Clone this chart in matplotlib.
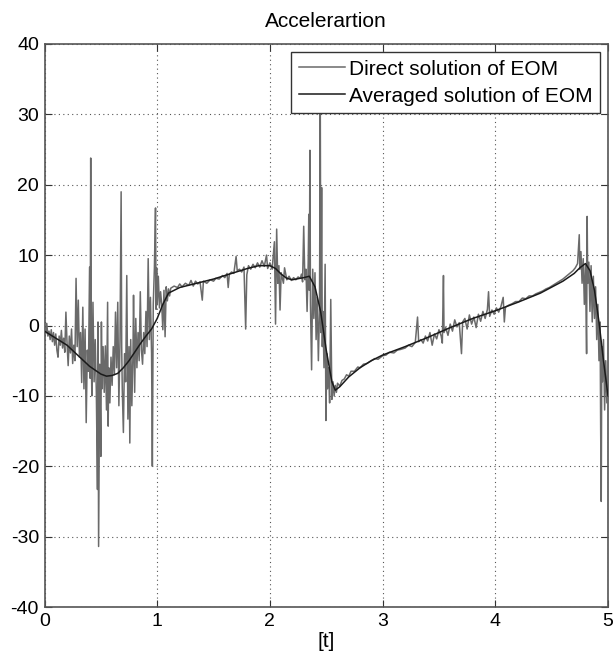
import matplotlib
matplotlib.use("Agg")
import matplotlib.pyplot as plt

# ---- data ----
direct_t = [
    0.00, 0.01, 0.02, 0.03, 0.04, 0.05, 0.06, 0.07, 0.08, 0.09,
    0.10, 0.11, 0.12, 0.13, 0.14, 0.15, 0.16, 0.17, 0.18, 0.19,
    0.20, 0.21, 0.22, 0.23, 0.24, 0.25, 0.26, 0.27, 0.28, 0.29,
    0.30, 0.31, 0.32, 0.33, 0.34, 0.35, 0.36, 0.37, 0.38, 0.39,
    0.40, 0.405, 0.41, 0.415, 0.42, 0.43, 0.44, 0.45, 0.46, 0.47,
    0.475, 0.48, 0.49, 0.50, 0.505, 0.51, 0.52, 0.53, 0.54, 0.55,
    0.56, 0.565, 0.57, 0.58, 0.59, 0.60, 0.61, 0.62, 0.63, 0.64,
    0.65, 0.66, 0.67, 0.675, 0.68, 0.685, 0.69, 0.70, 0.71, 0.72,
    0.73, 0.74, 0.75, 0.757, 0.765, 0.775, 0.785, 0.79, 0.80, 0.81,
    0.82, 0.83, 0.84, 0.85, 0.86, 0.87, 0.88, 0.89, 0.90, 0.91,
    0.92, 0.93, 0.94, 0.95, 0.957, 0.965, 0.975, 0.985, 0.99, 0.995,
    1.00, 1.01, 1.02, 1.03, 1.04, 1.05, 1.06, 1.07, 1.08, 1.09,
    1.10, 1.11, 1.12, 1.15, 1.18, 1.20, 1.22, 1.25, 1.28, 1.30,
    1.32, 1.34, 1.36, 1.38, 1.40, 1.41, 1.44, 1.47, 1.50, 1.52,
    1.55, 1.58, 1.60, 1.62, 1.63, 1.64, 1.66, 1.68, 1.70, 1.71,
    1.73, 1.75, 1.77, 1.785, 1.795, 1.81, 1.83, 1.85, 1.87, 1.89,
    1.91, 1.93, 1.95, 1.97, 1.98, 2.00, 2.02, 2.04, 2.05, 2.06,
    2.07, 2.08, 2.09, 2.10, 2.12, 2.13, 2.15, 2.17, 2.19, 2.21,
    2.23, 2.25, 2.27, 2.28, 2.29, 2.30, 2.31, 2.32, 2.33, 2.34,
    2.345, 2.35, 2.355, 2.36, 2.37, 2.38, 2.39, 2.40, 2.41, 2.42,
    2.43, 2.44, 2.447, 2.452, 2.459, 2.465, 2.47, 2.48, 2.49, 2.497,
    2.505, 2.51, 2.52, 2.53, 2.54, 2.55, 2.56, 2.57, 2.58, 2.59,
    2.60, 2.62, 2.64, 2.66, 2.68, 2.70, 2.72, 2.75, 2.78, 2.80,
    2.83, 2.86, 2.90, 2.93, 2.96, 3.00, 3.03, 3.06, 3.10, 3.13,
    3.16, 3.20, 3.23, 3.26, 3.29, 3.31, 3.32, 3.34, 3.36, 3.38,
    3.40, 3.42, 3.44, 3.46, 3.48, 3.50, 3.52, 3.53, 3.54, 3.545,
    3.56, 3.58, 3.60, 3.62, 3.64, 3.66, 3.68, 3.70, 3.71, 3.73,
    3.75, 3.77, 3.79, 3.81, 3.83, 3.85, 3.87, 3.89, 3.91, 3.93,
    3.94, 3.95, 3.97, 3.99, 4.01, 4.03, 4.05, 4.07, 4.08, 4.09,
    4.12, 4.15, 4.18, 4.21, 4.24, 4.27, 4.30, 4.33, 4.36, 4.39,
    4.42, 4.45, 4.48, 4.51, 4.54, 4.57, 4.60, 4.63, 4.66, 4.69,
    4.71, 4.73, 4.745, 4.75, 4.76, 4.77, 4.78, 4.79, 4.80, 4.81,
    4.815, 4.82, 4.83, 4.84, 4.85, 4.86, 4.87, 4.88, 4.89, 4.90,
    4.91, 4.92, 4.93, 4.935, 4.94, 4.945, 4.95, 4.96, 4.97, 4.98,
    4.99, 5.00,
]
direct_v = [
    -0.5, -1.2, 0.3, -1.5, -0.8, -2.0, -0.6, -2.3, -1.0, -2.8,
    -1.2, -3.5, -4.5, -1.5, -2.8, -0.7, -3.2, -1.8, -3.8, 1.9,
    -2.5, -5.7, -1.5, -3.9, -0.5, -5.4, -2.8, -5.0, 6.7, -3.0,
    3.6, -4.5, -1.0, -8.1, 2.6, -9.0, -0.5, -13.8, -3.5, -6.5,
    8.3, -7.5, 23.8, -4.0, -10.0, 3.3, -8.0, -2.0, -9.5, -23.3,
    0.5, -31.4, -5.5, -18.6, 0.5, -9.0, -3.0, -9.5, -2.9, -12.0,
    3.3, -14.3, -6.0, -11.0, -4.5, -8.5, -3.0, -7.0, 1.9, -6.0,
    3.3, -11.4, -2.0, 8.6, 19.0, -3.0, -9.0, -15.2, -4.0, -8.0,
    7.1, -13.3, -3.0, -16.7, -2.0, -11.4, -4.0, 4.3, -9.5, 1.0,
    -6.0, -1.0, -5.0, 4.8, -3.5, -5.5, -1.0, -4.0, 2.0, -3.0,
    9.5, -2.0, 4.0, -4.0, -20.0, 3.0, 8.1, 16.7, 2.3, 8.2,
    3.0, 7.0, 2.5, 4.8, 3.0, -0.6, 5.0, -1.6, 5.5, 3.5,
    5.2, 4.2, 5.3, 5.6, 5.4, 5.9, 5.5, 6.0, 5.7, 6.4,
    5.6, 6.3, 5.9, 6.2, 3.6, 6.3, 6.0, 6.5, 6.3, 6.7,
    6.6, 7.1, 6.8, 7.4, 5.4, 7.3, 7.6, 7.4, 9.8, 7.8,
    8.0, 7.6, 8.3, -0.5, 7.2, 8.5, 8.0, 8.7, 8.2, 8.9,
    8.3, 9.2, 8.4, 10.0, 8.1, 8.9, 8.0, 11.9, 0.2, 13.7,
    6.0, 8.5, 2.2, 7.5, 6.0, 8.2, 6.5, 7.0, 6.4, 6.8,
    6.5, 6.9, 6.7, 7.3, 6.2, 14.1, 6.5, 8.0, 2.0, 9.0,
    15.8, 5.0, 24.9, 3.0, -6.3, 8.0, 1.0, 7.5, -2.0, 4.0,
    -5.0, 2.0, 32.0, -1.0, 19.6, -3.0, 2.0, -6.0, 8.7, -13.5,
    -4.0, -9.0, -6.0, -11.0, 3.7, -10.5, -8.0, -10.0, -8.5, -9.5,
    -8.2, -8.6, -7.8, -7.6, -7.0, -7.2, -6.5, -6.5, -5.9, -6.0,
    -5.5, -5.4, -5.0, -4.7, -4.8, -4.3, -4.2, -3.8, -3.9, -3.5,
    -3.4, -3.2, -2.8, -3.0, -2.4, 1.2, -2.3, -2.0, -2.5, -1.5,
    -2.2, -1.0, -2.8, -1.2, -1.9, -0.6, -1.5, -2.5, 7.1, -1.0,
    -0.3, -1.4, 0.2, -0.8, 0.8, -0.2, 0.4, -4.0, 0.5, 1.0,
    -0.5, 1.5, 0.2, 1.2, -0.3, 1.6, 0.6, 2.0, 1.0, 2.3,
    4.8, 1.3, 2.2, 1.6, 2.5, 1.9, 2.7, 4.0, 0.5, 2.6,
    2.9, 3.1, 3.4, 3.4, 3.9, 3.8, 4.2, 4.2, 4.5, 4.7,
    4.9, 5.2, 5.4, 5.7, 6.0, 6.3, 6.6, 7.0, 7.4, 7.8,
    8.2, 8.8, 12.9, 8.0, 10.5, 6.0, 9.5, 3.0, 8.5, -4.0,
    15.5, 6.0, 9.0, 2.0, 8.5, 0.5, 7.0, 1.0, 5.5, -2.0,
    3.0, -5.0, 0.5, -14.8, -25.0, -3.0, -8.0, -2.0, -12.0, -5.0,
    -11.0, -8.0,
]

avg_t = [0.0, 0.1, 0.2, 0.3, 0.4, 0.5, 0.55, 0.6, 0.65, 0.7, 0.75, 0.8,
         0.85, 0.9, 0.95, 1.0, 1.05, 1.1, 1.2, 1.3, 1.4, 1.5, 1.6, 1.7,
         1.8, 1.9, 2.0, 2.05, 2.1, 2.15, 2.2, 2.3, 2.35, 2.4, 2.45, 2.5,
         2.55, 2.58, 2.62, 2.7, 2.8, 2.9, 3.0, 3.2, 3.4, 3.6, 3.8, 4.0,
         4.2, 4.4, 4.6, 4.7, 4.75, 4.8, 4.84, 4.88, 4.92, 4.96, 5.0]
avg_v = [-0.8, -1.8, -2.8, -4.3, -5.8, -6.9, -7.2, -7.1, -6.8, -6.0, -5.0, -3.8,
         -2.6, -1.5, -0.5, 1.0, 3.0, 4.6, 5.4, 5.8, 6.2, 6.6, 7.1, 7.6,
         8.1, 8.5, 8.5, 8.1, 7.3, 6.7, 6.5, 6.8, 7.0, 5.5, 2.0, -3.5,
         -8.0, -9.2, -8.7, -7.3, -6.0, -5.0, -4.2, -3.0, -1.7, -0.3, 1.0, 2.1,
         3.3, 4.6, 6.3, 7.4, 8.2, 8.8, 7.8, 5.0, 0.5, -5.0, -10.0]

x_ticks = [0, 1, 2, 3, 4, 5]
y_ticks = [-40, -30, -20, -10, 0, 10, 20, 30, 40]
title_text = "Accelerartion"
x_label = "[t]"
legend_labels = ["Direct solution of EOM", "Averaged solution of EOM"]

# ---- figure ----
plt.rcParams['font.family'] = ['Liberation Sans', 'DejaVu Sans']
plt.rcParams['axes.unicode_minus'] = False
fig = plt.figure(figsize=(6.14, 6.59), dpi=100)
ax = fig.add_axes([44.5 / 614, 1 - 607 / 659, (608 - 44.5) / 614, (607 - 44) / 659])

ax.plot(direct_t, direct_v, color='#6a6a6a', lw=1.1, label=legend_labels[0], zorder=3)
ax.plot(avg_t, avg_v, color='#1a1a1a', lw=1.1, label=legend_labels[1], zorder=4)

ax.set_xlim(0, 5)
ax.set_ylim(-40, 40)
ax.set_xticks(x_ticks)
ax.set_yticks(y_ticks)
ax.tick_params(direction='in', length=5, width=0.8, colors='#333333',
               labelcolor='black', labelsize=14, top=True, right=True, pad=4)
ax.grid(True, linestyle=(0, (1, 3)), color='#555555', lw=0.8)
ax.set_axisbelow(True)
for s in ax.spines.values():
    s.set_color('#555555')
    s.set_linewidth(1.2)

ax.set_title(title_text, fontsize=15, pad=12)
ax.set_xlabel(x_label, fontsize=15, labelpad=2)

leg = ax.legend(loc='upper right', fontsize=15, frameon=True, fancybox=False,
                edgecolor='#333333', framealpha=1.0, handlelength=2.2,
                handletextpad=0.2, borderpad=0.35, labelspacing=0.38,
                borderaxespad=0.4)
leg.get_frame().set_linewidth(1.0)
leg.set_zorder(10)

fig.savefig("out.png", dpi=100)
